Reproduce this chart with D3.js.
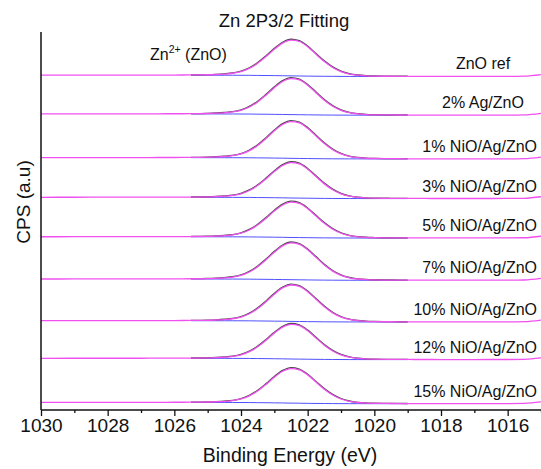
<!DOCTYPE html>
<html>
<head>
<meta charset="utf-8">
<script src="https://cdn.jsdelivr.net/npm/d3@7/dist/d3.min.js"></script>
<style>
  html, body { margin: 0; padding: 0; background: #fff; }
  svg { display: block; font-family: "Liberation Sans", Arial, sans-serif; }
</style>
</head>
<body>
<svg id="chart" width="541" height="469"></svg>
<script>
// ---------- data ----------
const samples = ["ZnO ref", "2% Ag/ZnO", "1% NiO/Ag/ZnO", "3% NiO/Ag/ZnO", "5% NiO/Ag/ZnO",
                 "7% NiO/Ag/ZnO", "10% NiO/Ag/ZnO", "12% NiO/Ag/ZnO", "15% NiO/Ag/ZnO"];
// vertical stacking level of each spectrum (a.u.)
const offsets = [9.0, 7.955, 6.775, 5.705, 4.64, 3.5, 2.375, 1.36, 0.17];
// Zn 2p3/2 peak height of each spectrum (a.u.)
const heights = [0.99, 1.0, 1.02, 0.98, 0.98, 1.02, 1.01, 0.96, 0.96];

// binding energies (eV)
const energies = [1030, 1029, 1028, 1027, 1026.5, 1026, 1025.5, 1025, 1024.75, 1024.5, 1024.25, 1024,
  1023.75, 1023.5, 1023.25, 1023, 1022.75, 1022.5, 1022.25, 1022, 1021.75, 1021.5, 1021.25, 1021,
  1020.75, 1020.5, 1020.25, 1020, 1019.5, 1019, 1018.5, 1018, 1017, 1016, 1015.5, 1015];
// measured spectrum (normalised, background removed)
const dataProfile = [0.000, 0.001, 0.002, 0.002, 0.003, 0.004, 0.006, 0.012, 0.020, 0.032, 0.054, 0.100,
  0.190, 0.330, 0.515, 0.720, 0.890, 0.972, 0.940, 0.800, 0.600, 0.400, 0.240, 0.130,
  0.066, 0.033, 0.018, 0.011, 0.006, 0.004, 0.003, 0.002, 0.002, 0.003, 0.008, 0.050];
// fitted Zn2+ (ZnO) component (normalised)
const fitProfile = [0.001, 0.002, 0.002, 0.003, 0.004, 0.005, 0.008, 0.016, 0.025, 0.040, 0.062, 0.112,
  0.206, 0.350, 0.538, 0.743, 0.914, 0.998, 0.961, 0.819, 0.620, 0.421, 0.258, 0.144,
  0.075, 0.039, 0.022, 0.014, 0.008, 0.006, 0.004, 0.0035, 0.002, 0.002, 0.001, 0.001];
// Shirley background (a.u., relative to stacking level)
const background = [0.035, 0.035, 0.035, 0.035, 0.035, 0.035, 0.035, 0.034, 0.034, 0.033, 0.033, 0.032,
  0.031, 0.028, 0.026, 0.023, 0.020, 0.016, 0.013, 0.010, 0.007, 0.005, 0.003, 0.002,
  0.001, 0.001, 0.000, 0.000, 0.000, 0.000, 0.000, 0.000, 0.000, 0.000, 0.000, 0.000];
const fitRange = [1025.8, 1018.8];

const xTicksMajor = [1030, 1028, 1026, 1024, 1022, 1020, 1018, 1016];
const xTicksMinor = [1029, 1027, 1025, 1023, 1021, 1019, 1017, 1015];

// ---------- layout ----------
const svg = d3.select("#chart");
const x = d3.scaleLinear().domain([1030, 1015]).range([41, 541]);
const y = d3.scaleLinear().domain([0, 10.2]).range([410, 32]);

const pts = energies.map((e, k) => ({ e, k }));
const inFit = d => d.e <= fitRange[0] + 1e-9 && d.e >= fitRange[1] - 1e-9;
const fitPts = pts.filter(inFit);

const line = d3.line().curve(d3.curveMonotoneX);

const g = svg.append("g");
samples.forEach((name, i) => {
  const off = offsets[i], h = heights[i];
  g.append("path")
    .attr("d", line(fitPts.map(d => [x(d.e), y(off + background[d.k])])))
    .attr("fill", "none").attr("stroke", "#5050ff").attr("stroke-width", 1);
  g.append("path")
    .attr("d", line(fitPts.map(d => [x(d.e), y(off + background[d.k] + h * fitProfile[d.k])])))
    .attr("fill", "none").attr("stroke", "#4a4a4a").attr("stroke-width", 1.3);
  g.append("path")
    .attr("d", line(pts.map(d => [x(d.e), y(off + background[d.k] + h * dataProfile[d.k])])))
    .attr("fill", "none").attr("stroke", "#f050f0").attr("stroke-width", 1.3);
  const t = svg.append("text")
    .attr("x", 483).attr("y", y(off) - 7)
    .attr("text-anchor", "middle").attr("font-size", 16).attr("fill", "#111")
    .text(name);
  const w = t.node().getComputedTextLength();
  if (483 + w / 2 > 537) t.attr("x", 537 - w / 2);
});

// ---------- axes ----------
const axisG = svg.append("g").attr("transform", `translate(0,${y(0)})`);
axisG.call(d3.axisBottom(x).tickValues(xTicksMajor).tickSize(6).tickPadding(3).tickFormat(d3.format("d")))
  .call(a => a.select(".domain").remove())
  .call(a => a.selectAll("text").attr("font-size", 19).attr("fill", "#111")
    .attr("font-family", "Liberation Sans, Arial, sans-serif"))
  .call(a => a.selectAll("line").attr("stroke", "#111").attr("stroke-width", 1.3));
const minorG = svg.append("g").attr("transform", `translate(0,${y(0)})`);
minorG.call(d3.axisBottom(x).tickValues(xTicksMinor).tickSize(3).tickFormat(""))
  .call(a => a.select(".domain").remove())
  .call(a => a.selectAll("line").attr("stroke", "#111").attr("stroke-width", 1.3));

svg.append("line").attr("x1", x(1030)).attr("x2", x(1015)).attr("y1", y(0)).attr("y2", y(0))
  .attr("stroke", "#111").attr("stroke-width", 1.5);
svg.append("line").attr("x1", x(1030)).attr("x2", x(1030)).attr("y1", y(0)).attr("y2", y(10.2))
  .attr("stroke", "#111").attr("stroke-width", 1.5);

// ---------- titles ----------
svg.append("text").attr("x", 284).attr("y", 27).attr("text-anchor", "middle")
  .attr("font-size", 18.5).attr("fill", "#111").text("Zn 2P3/2 Fitting");
svg.append("text").attr("x", 290).attr("y", 462).attr("text-anchor", "middle")
  .attr("font-size", 19.5).attr("fill", "#111").text("Binding Energy (eV)");
svg.append("text").attr("transform", "translate(30,202) rotate(-90)").attr("text-anchor", "middle")
  .attr("font-size", 19).attr("fill", "#111").text("CPS (a.u)");

const ann = svg.append("text").attr("x", 150).attr("y", 60).attr("font-size", 16).attr("fill", "#111");
ann.append("tspan").text("Zn");
ann.append("tspan").attr("font-size", 10.5).attr("dy", -7).text("2+");
ann.append("tspan").attr("dy", 7).text(" (ZnO)");
</script>
</body>
</html>
